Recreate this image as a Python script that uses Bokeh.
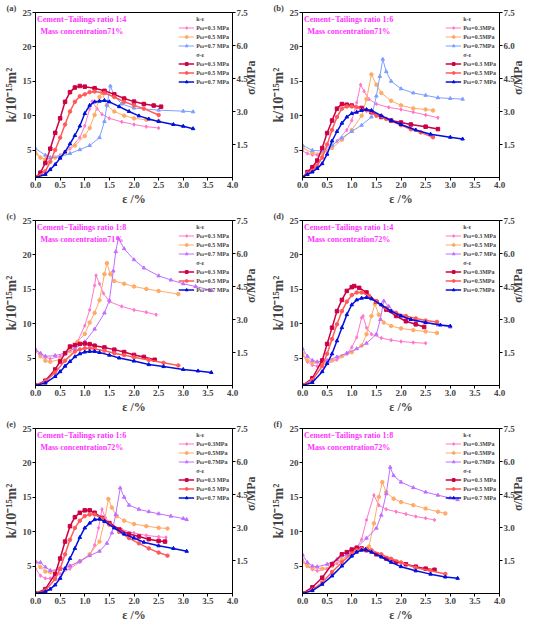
import math
from bokeh.plotting import figure
from bokeh.models import (Range1d, LinearAxis, FixedTicker, PrintfTickFormatter,
                          Legend, LegendItem, Label)
from bokeh.layouts import gridplot
from bokeh.embed import file_html
from bokeh.resources import INLINE

# ---------------- data ----------------
X_TICKS = [0.0, 0.5, 1.0, 1.5, 2.0, 2.5, 3.0, 3.5, 4.0]
K_TICKS = [5, 10, 15, 20, 25]
S_TICKS = [1.5, 3.0, 4.5, 6.0, 7.5]
PRESSURES = ["0.3", "0.5", "0.7"]

# panel (a) 1:4, 71%
a_k03_x = [0, 0.1, 0.2, 0.3, 0.5, 0.7, 0.9, 1.0, 1.1, 1.15, 1.25, 1.35, 1.5, 1.75, 2.0, 2.25, 2.5]
a_k03_y = [4.7, 3.9, 3.65, 3.8, 4.25, 5.2, 6.8, 8.5, 11.0, 12.05, 11.0, 10.2, 9.6, 9.1, 8.7, 8.4, 8.2]
a_k05_x = [0, 0.1, 0.2, 0.4, 0.6, 0.8, 1.0, 1.1, 1.2, 1.3, 1.35, 1.45, 1.6, 1.8, 2.0, 2.25, 2.5]
a_k05_y = [4.5, 3.9, 3.6, 3.9, 4.7, 5.65, 7.05, 8.2, 10.1, 12.7, 13.3, 11.5, 10.6, 10.0, 9.6, 9.4, 9.25]
a_k07_x = [0, 0.2, 0.3, 0.5, 0.7, 0.9, 1.1, 1.3, 1.4, 1.45, 1.52, 1.6, 1.75, 2.0, 2.5, 3.0, 3.2]
a_k07_y = [5.2, 4.25, 3.9, 4.0, 4.5, 5.05, 5.65, 6.8, 9.15, 11.5, 14.3, 12.9, 11.7, 11.1, 10.8, 10.65, 10.55]
a_s03_x = [0, 0.1, 0.2, 0.3, 0.4, 0.5, 0.6, 0.7, 0.8, 0.9, 1.0, 1.2, 1.4, 1.6, 1.8, 2.0, 2.2, 2.4, 2.55]
a_s03_y = [0, 0.22, 0.66, 1.31, 2.03, 2.69, 3.44, 3.88, 4.09, 4.16, 4.13, 4.06, 3.94, 3.78, 3.59, 3.45, 3.34, 3.27, 3.22]
a_s05_x = [0, 0.2, 0.3, 0.4, 0.5, 0.6, 0.7, 0.8, 0.9, 1.0, 1.1, 1.2, 1.4, 1.6, 1.8, 2.0, 2.2, 2.5]
a_s05_y = [0, 0.28, 0.72, 1.25, 1.81, 2.41, 3.0, 3.44, 3.69, 3.78, 3.88, 3.91, 3.84, 3.66, 3.44, 3.28, 3.13, 2.84]
a_s07_x = [0, 0.2, 0.3, 0.4, 0.5, 0.6, 0.7, 0.8, 0.9, 1.0, 1.1, 1.2, 1.3, 1.4, 1.5, 1.7, 1.9, 2.1, 2.3, 2.5, 2.8, 3.0, 3.2]
a_s07_y = [0, 0.14, 0.36, 0.59, 0.88, 1.16, 1.53, 1.91, 2.34, 2.91, 3.28, 3.44, 3.47, 3.5, 3.44, 3.22, 3.0, 2.8, 2.66, 2.55, 2.41, 2.33, 2.22]

# panel (b) 1:6, 71%
b_k03_x = [0, 0.1, 0.2, 0.3, 0.5, 0.7, 0.9, 1.0, 1.1, 1.18, 1.25, 1.35, 1.5, 1.75, 2.0, 2.25, 2.5, 2.75]
b_k03_y = [4.85, 4.5, 4.3, 4.3, 4.85, 6.3, 7.9, 9.3, 11.9, 14.5, 13.55, 12.4, 11.7, 11.2, 10.9, 10.5, 10.1, 9.7]
b_k05_x = [0, 0.2, 0.4, 0.6, 0.8, 1.0, 1.2, 1.3, 1.4, 1.5, 1.6, 1.8, 2.0, 2.25, 2.5, 2.65]
b_k05_y = [5.3, 4.6, 4.5, 5.3, 6.5, 7.9, 10.0, 12.4, 16.0, 14.5, 13.3, 12.15, 11.5, 11.05, 10.9, 10.75]
b_k07_x = [0, 0.2, 0.4, 0.6, 0.8, 1.0, 1.2, 1.4, 1.5, 1.57, 1.63, 1.7, 1.8, 2.0, 2.25, 2.5, 2.75, 3.0, 3.25]
b_k07_y = [5.7, 4.95, 4.85, 5.7, 6.75, 7.7, 8.6, 9.8, 12.85, 15.7, 18.2, 16.4, 15.0, 13.9, 13.3, 12.95, 12.6, 12.5, 12.4]
b_s03_x = [0, 0.1, 0.2, 0.3, 0.4, 0.5, 0.6, 0.7, 0.8, 0.9, 1.0, 1.2, 1.4, 1.6, 1.8, 2.0, 2.2, 2.5, 2.75]
b_s03_y = [0, 0.25, 0.47, 0.77, 1.34, 2.02, 2.59, 3.13, 3.34, 3.31, 3.27, 3.16, 2.97, 2.75, 2.59, 2.5, 2.41, 2.31, 2.2]
b_s05_x = [0, 0.1, 0.2, 0.3, 0.4, 0.5, 0.6, 0.7, 0.8, 0.9, 1.0, 1.1, 1.3, 1.5, 1.7, 2.0, 2.2, 2.4, 2.65]
b_s05_y = [0, 0.19, 0.31, 0.55, 0.91, 1.5, 2.16, 2.75, 3.13, 3.23, 3.23, 3.19, 3.05, 2.81, 2.66, 2.38, 2.19, 2.05, 1.83]
b_s07_x = [0, 0.1, 0.2, 0.3, 0.4, 0.5, 0.6, 0.7, 0.8, 0.9, 1.0, 1.1, 1.2, 1.3, 1.4, 1.6, 1.8, 2.0, 2.3, 2.6, 3.0, 3.25]
b_s07_y = [0, 0.14, 0.25, 0.41, 0.63, 1.06, 1.66, 2.09, 2.47, 2.75, 2.91, 2.97, 3.05, 3.09, 3.05, 2.81, 2.59, 2.41, 2.16, 1.97, 1.83, 1.75]

# panel (c) 1:8, 71%
c_k03_x = [0, 0.1, 0.2, 0.3, 0.5, 0.7, 0.85, 1.0, 1.1, 1.2, 1.23, 1.3, 1.38, 1.5, 1.75, 2.0, 2.25, 2.45]
c_k03_y = [6.3, 5.6, 5.1, 4.9, 5.2, 6.2, 7.35, 9.7, 12.0, 15.55, 17.0, 15.8, 14.4, 13.2, 12.5, 12.0, 11.65, 11.3]
c_k05_x = [0, 0.1, 0.2, 0.3, 0.5, 0.7, 0.85, 1.0, 1.1, 1.2, 1.3, 1.4, 1.45, 1.52, 1.6, 1.8, 2.0, 2.25, 2.5, 2.9]
c_k05_y = [6.0, 5.25, 4.6, 4.45, 4.8, 6.0, 7.35, 8.5, 10.15, 11.55, 13.4, 17.2, 18.8, 17.2, 16.2, 15.8, 15.4, 15.05, 14.75, 14.3]
c_k07_x = [0, 0.1, 0.2, 0.4, 0.6, 0.8, 1.0, 1.2, 1.4, 1.5, 1.58, 1.63, 1.68, 1.8, 2.0, 2.2, 2.5, 2.75, 3.0, 3.25, 3.57]
c_k07_y = [6.15, 5.7, 5.25, 5.35, 5.7, 6.4, 7.35, 9.2, 11.55, 13.4, 17.65, 20.45, 22.4, 20.9, 19.3, 18.1, 16.95, 16.35, 15.8, 15.4, 14.85]
c_s03_x = [0, 0.2, 0.4, 0.5, 0.6, 0.7, 0.8, 0.9, 1.0, 1.1, 1.2, 1.4, 1.6, 1.8, 2.0, 2.2, 2.42]
c_s03_y = [0, 0.22, 0.73, 1.09, 1.47, 1.77, 1.84, 1.89, 1.91, 1.88, 1.81, 1.73, 1.63, 1.52, 1.39, 1.30, 1.17]
c_s05_x = [0, 0.2, 0.4, 0.6, 0.8, 0.9, 1.0, 1.1, 1.2, 1.4, 1.6, 1.8, 2.0, 2.3, 2.6, 2.9]
c_s05_y = [0, 0.19, 0.59, 1.13, 1.55, 1.64, 1.69, 1.69, 1.66, 1.58, 1.47, 1.38, 1.28, 1.16, 1.03, 0.91]
c_s07_x = [0, 0.2, 0.4, 0.5, 0.6, 0.7, 0.8, 0.9, 1.0, 1.1, 1.2, 1.3, 1.5, 1.7, 2.0, 2.3, 2.6, 3.0, 3.3, 3.57]
c_s07_y = [0, 0.11, 0.41, 0.63, 0.88, 1.09, 1.31, 1.44, 1.52, 1.55, 1.55, 1.5, 1.38, 1.25, 1.11, 0.95, 0.86, 0.73, 0.66, 0.59]

# panel (d) 1:4, 72%
d_k03_x = [0, 0.1, 0.2, 0.3, 0.5, 0.7, 0.9, 1.0, 1.1, 1.2, 1.23, 1.3, 1.4, 1.6, 1.8, 2.0, 2.25, 2.5]
d_k03_y = [5.4, 4.45, 3.95, 3.8, 4.2, 4.75, 5.6, 6.55, 8.0, 10.85, 11.1, 9.4, 8.45, 7.9, 7.6, 7.4, 7.25, 7.15]
d_k05_x = [0, 0.1, 0.2, 0.4, 0.6, 0.8, 1.0, 1.2, 1.3, 1.4, 1.47, 1.55, 1.65, 1.8, 2.0, 2.25, 2.5, 2.73]
d_k05_y = [5.6, 4.65, 4.3, 4.2, 4.65, 5.25, 5.85, 6.8, 8.45, 11.1, 12.85, 11.3, 10.15, 9.65, 9.3, 9.05, 8.85, 8.65]
d_k07_x = [0, 0.1, 0.2, 0.3, 0.5, 0.7, 0.9, 1.1, 1.3, 1.5, 1.58, 1.65, 1.75, 1.9, 2.1, 2.3, 2.5, 2.75, 3.0]
d_k07_y = [6.35, 5.25, 4.65, 4.45, 4.65, 5.15, 5.7, 6.35, 7.15, 8.45, 10.6, 13.3, 12.5, 11.55, 10.95, 10.45, 10.15, 9.8, 9.5]
d_s03_x = [0, 0.2, 0.4, 0.5, 0.6, 0.7, 0.8, 0.9, 1.0, 1.05, 1.15, 1.3, 1.5, 1.7, 1.9, 2.1, 2.3, 2.47]
d_s03_y = [0, 0.33, 1.14, 1.89, 2.63, 3.38, 3.89, 4.3, 4.47, 4.52, 4.44, 4.23, 3.81, 3.45, 3.16, 2.92, 2.78, 2.66]
d_s05_x = [0, 0.2, 0.4, 0.5, 0.6, 0.7, 0.8, 0.9, 1.0, 1.1, 1.2, 1.35, 1.5, 1.7, 1.9, 2.1, 2.3, 2.5, 2.73]
d_s05_y = [0, 0.25, 0.88, 1.44, 2.11, 2.78, 3.38, 3.81, 4.11, 4.23, 4.23, 4.08, 3.81, 3.52, 3.3, 3.16, 3.05, 2.95, 2.89]
d_s07_x = [0, 0.2, 0.4, 0.5, 0.6, 0.7, 0.8, 0.9, 1.0, 1.1, 1.2, 1.3, 1.4, 1.6, 1.8, 2.0, 2.2, 2.5, 2.8, 3.0]
d_s07_y = [0, 0.14, 0.63, 1.0, 1.44, 2.03, 2.63, 3.22, 3.67, 3.89, 3.97, 4.0, 3.94, 3.67, 3.38, 3.16, 3.0, 2.86, 2.75, 2.7]

# panel (e) 1:6, 72%
e_k03_x = [0, 0.1, 0.2, 0.3, 0.5, 0.7, 0.9, 1.1, 1.2, 1.28, 1.35, 1.42, 1.55, 1.75, 2.0, 2.25, 2.5, 2.65]
e_k03_y = [4.6, 3.6, 3.2, 3.2, 3.85, 4.6, 5.6, 6.6, 8.05, 10.55, 13.25, 12.0, 11.0, 10.3, 9.8, 9.45, 9.25, 9.15]
e_k05_x = [0, 0.1, 0.2, 0.3, 0.5, 0.7, 0.9, 1.1, 1.3, 1.4, 1.48, 1.55, 1.65, 1.8, 2.0, 2.25, 2.5, 2.68]
e_k05_y = [5.6, 4.85, 4.2, 4.1, 4.6, 5.0, 5.7, 6.7, 8.55, 11.5, 14.75, 13.5, 12.25, 11.6, 11.1, 10.8, 10.55, 10.45]
e_k07_x = [0, 0.1, 0.2, 0.3, 0.5, 0.7, 0.9, 1.1, 1.3, 1.45, 1.55, 1.63, 1.72, 1.8, 1.9, 2.1, 2.3, 2.5, 2.75, 3.0, 3.07]
e_k07_y = [5.6, 5.5, 4.85, 4.35, 4.5, 5.0, 5.7, 6.5, 7.15, 8.3, 9.8, 12.5, 16.35, 15.0, 13.85, 13.25, 12.9, 12.6, 12.25, 11.9, 11.75]
e_s03_x = [0, 0.2, 0.4, 0.5, 0.6, 0.7, 0.8, 0.9, 1.0, 1.1, 1.2, 1.35, 1.5, 1.7, 1.9, 2.1, 2.3, 2.5, 2.63]
e_s03_y = [0, 0.2, 0.89, 1.59, 2.36, 3.06, 3.47, 3.67, 3.78, 3.78, 3.67, 3.44, 3.2, 2.91, 2.7, 2.59, 2.47, 2.39, 2.36]
e_s05_x = [0, 0.2, 0.4, 0.5, 0.6, 0.7, 0.8, 0.9, 1.0, 1.1, 1.2, 1.35, 1.5, 1.7, 1.9, 2.1, 2.3, 2.5, 2.68]
e_s05_y = [0, 0.13, 0.66, 1.13, 1.78, 2.44, 2.98, 3.31, 3.52, 3.59, 3.59, 3.41, 3.13, 2.8, 2.52, 2.28, 2.05, 1.86, 1.72]
e_s07_x = [0, 0.2, 0.3, 0.4, 0.5, 0.6, 0.7, 0.8, 0.9, 1.0, 1.1, 1.2, 1.3, 1.4, 1.6, 1.8, 2.0, 2.2, 2.5, 2.8, 3.07]
e_s07_y = [0, 0.08, 0.2, 0.39, 0.69, 1.13, 1.59, 2.05, 2.55, 2.98, 3.2, 3.36, 3.38, 3.28, 2.98, 2.7, 2.52, 2.33, 2.17, 2.05, 1.92]

# panel (f) 1:8, 72%
f_k03_x = [0, 0.1, 0.2, 0.3, 0.5, 0.7, 0.9, 1.1, 1.2, 1.3, 1.45, 1.55, 1.7, 1.9, 2.1, 2.3, 2.5, 2.68]
f_k03_y = [5.95, 5.0, 4.5, 4.3, 4.6, 5.4, 6.45, 7.65, 8.85, 11.7, 15.3, 13.85, 13.25, 12.9, 12.55, 12.2, 11.95, 11.7]
f_k05_x = [0, 0.1, 0.2, 0.4, 0.6, 0.8, 1.0, 1.2, 1.35, 1.45, 1.55, 1.62, 1.7, 1.85, 2.0, 2.25, 2.5, 2.75, 2.9]
f_k05_y = [5.55, 5.0, 4.75, 4.6, 5.0, 5.95, 6.9, 7.4, 7.85, 11.2, 15.05, 17.2, 15.75, 14.8, 14.3, 13.85, 13.35, 12.9, 12.65]
f_k07_x = [0, 0.1, 0.2, 0.3, 0.5, 0.7, 0.9, 1.1, 1.3, 1.5, 1.6, 1.7, 1.78, 1.85, 2.0, 2.25, 2.5, 2.75, 3.0, 3.15]
f_k07_y = [6.65, 5.5, 5.0, 4.9, 5.25, 5.95, 6.65, 7.65, 9.05, 10.5, 12.4, 15.5, 19.35, 18.15, 17.2, 16.4, 15.75, 15.3, 14.9, 14.65]
f_s03_x = [0, 0.2, 0.4, 0.6, 0.8, 0.9, 1.0, 1.1, 1.2, 1.3, 1.5, 1.7, 1.9, 2.1, 2.3, 2.5, 2.68]
f_s03_y = [0, 0.28, 0.72, 1.33, 1.78, 1.88, 2.0, 2.08, 2.05, 1.97, 1.78, 1.59, 1.44, 1.33, 1.22, 1.13, 1.08]
f_s05_x = [0, 0.2, 0.4, 0.6, 0.8, 1.0, 1.1, 1.2, 1.3, 1.4, 1.6, 1.8, 2.0, 2.3, 2.6, 2.9]
f_s05_y = [0, 0.17, 0.5, 0.98, 1.42, 1.81, 1.97, 2.03, 2.03, 1.97, 1.78, 1.58, 1.41, 1.17, 1.03, 0.89]
f_s07_x = [0, 0.2, 0.4, 0.6, 0.8, 1.0, 1.1, 1.2, 1.28, 1.4, 1.6, 1.8, 2.0, 2.3, 2.6, 2.9, 3.15]
f_s07_y = [0, 0.13, 0.42, 0.8, 1.25, 1.7, 1.88, 1.97, 2.0, 1.88, 1.66, 1.42, 1.22, 1.03, 0.88, 0.75, 0.69]

# ---------------- styling ----------------
SERIF = "Liberation Serif"
MAGENTA = "#FF33FF"
K_COLORS_AB = ["#FF77CC", "#FFAA66", "#7F9FFF"]
K_COLORS_CF = ["#FF77CC", "#FFAA66", "#C070FF"]
S_COLORS = ["#CC0044", "#FF5a5a", "#0010DD"]
K_MARKERS = ["diamond", "circle", "triangle"]
S_MARKERS = ["square", "circle", "triangle"]

W, H = 267, 208


def style_axis(ax, label_size):
    ax.axis_line_color = "black"
    ax.axis_line_width = 1
    ax.major_tick_line_color = "black"
    ax.major_tick_out = 3
    ax.major_tick_in = 0
    ax.minor_tick_line_color = None
    ax.major_label_text_font = SERIF
    ax.major_label_text_font_style = "bold"
    ax.major_label_text_font_size = "9px"
    ax.major_label_standoff = 1
    ax.axis_label_text_font = SERIF
    ax.axis_label_text_font_style = "bold"
    ax.axis_label_text_font_size = label_size
    ax.axis_label_standoff = 1


def make_panel(tag, ratio, conc, kdata, sdata, kcolors, klab_space, slab_space):
    p = figure(width=W, height=H, output_backend="svg", toolbar_location=None,
               x_range=Range1d(0, 4.0), y_range=Range1d(1, 25),
               min_border_left=26, min_border_right=24,
               min_border_top=0, min_border_bottom=30)
    p.extra_y_ranges = {"s": Range1d(0, 7.5)}
    p.grid.visible = False
    p.outline_line_color = "black"
    p.outline_line_width = 1

    # panel tag "(a)" as a left-aligned title pulled to the left edge
    p.title.text = tag
    p.title.align = "left"
    p.title.offset = -29
    p.title.text_font = SERIF
    p.title.text_font_size = "8.5px"
    p.title.text_font_style = "bold"
    try:
        p.title.standoff = 0
    except Exception:
        pass

    p.xaxis.ticker = FixedTicker(ticks=X_TICKS)
    p.xaxis.formatter = PrintfTickFormatter(format="%.1f")
    p.xaxis.axis_label = "ε /%"
    p.yaxis.ticker = FixedTicker(ticks=K_TICKS)
    p.yaxis.axis_label = "k/10⁻¹⁵m²"
    style_axis(p.xaxis[0], "12px")
    style_axis(p.yaxis[0], "14px")

    rax = LinearAxis(y_range_name="s", axis_label="σ/MPa",
                     ticker=FixedTicker(ticks=S_TICKS),
                     formatter=PrintfTickFormatter(format="%.1f"))
    style_axis(rax, "12px")
    rax.axis_label_standoff = 0
    try:
        rax.axis_label_orientation = math.pi / 2
    except Exception:
        pass
    p.add_layout(rax, "right")

    hdr_k = p.line([], [], line_alpha=0)
    hdr_s = p.line([], [], line_alpha=0)
    items = [LegendItem(label="k-ε", renderers=[hdr_k])]
    for i, (xs, ys) in enumerate(kdata):
        c = kcolors[i]
        r1 = p.line(xs, ys, line_color=c, line_width=1)
        r2 = p.scatter(xs, ys, marker=K_MARKERS[i], size=3.5, color=c)
        sep = " " if klab_space else ""
        items.append(LegendItem(label="Pω=" + PRESSURES[i] + sep + "MPa", renderers=[r1, r2]))
    items.append(LegendItem(label="σ-ε", renderers=[hdr_s]))
    for i, (xs, ys) in enumerate(sdata):
        c = S_COLORS[i]
        r1 = p.line(xs, ys, line_color=c, line_width=1.5, y_range_name="s")
        r2 = p.scatter(xs, ys, marker=S_MARKERS[i], size=3.5, color=c, y_range_name="s")
        sep = " " if slab_space else ""
        items.append(LegendItem(label="Pω=" + PRESSURES[i] + sep + "MPa", renderers=[r1, r2]))

    lg = Legend(items=items, location="top_right",
                border_line_color=None, background_fill_alpha=0,
                label_text_font=SERIF, label_text_font_size="6px",
                label_text_font_style="bold", glyph_width=16, glyph_height=7,
                label_height=7, label_width=32, label_standoff=2,
                spacing=2, padding=1, margin=3)
    p.add_layout(lg)

    p.add_layout(Label(x=0.03, y=24.0, text="Cement\u2212Tailings ratio " + ratio,
                       text_align="left", text_baseline="middle", text_color=MAGENTA,
                       text_font=SERIF, text_font_size="8px", text_font_style="bold"))
    p.add_layout(Label(x=0.1, y=22.3, text="Mass concentration" + conc,
                       text_align="left", text_baseline="middle", text_color=MAGENTA,
                       text_font=SERIF, text_font_size="8px", text_font_style="bold"))
    return p


pa = make_panel("(a)", "1:4", "71%",
                [(a_k03_x, a_k03_y), (a_k05_x, a_k05_y), (a_k07_x, a_k07_y)],
                [(a_s03_x, a_s03_y), (a_s05_x, a_s05_y), (a_s07_x, a_s07_y)],
                K_COLORS_AB, True, True)
pb = make_panel("(b)", "1:6", "71%",
                [(b_k03_x, b_k03_y), (b_k05_x, b_k05_y), (b_k07_x, b_k07_y)],
                [(b_s03_x, b_s03_y), (b_s05_x, b_s05_y), (b_s07_x, b_s07_y)],
                K_COLORS_AB, False, True)
pc = make_panel("(c)", "1:8", "71%",
                [(c_k03_x, c_k03_y), (c_k05_x, c_k05_y), (c_k07_x, c_k07_y)],
                [(c_s03_x, c_s03_y), (c_s05_x, c_s05_y), (c_s07_x, c_s07_y)],
                K_COLORS_CF, True, True)
pd_ = make_panel("(d)", "1:4", "72%",
                 [(d_k03_x, d_k03_y), (d_k05_x, d_k05_y), (d_k07_x, d_k07_y)],
                 [(d_s03_x, d_s03_y), (d_s05_x, d_s05_y), (d_s07_x, d_s07_y)],
                 K_COLORS_CF, True, False)
pe = make_panel("(e)", "1:6", "72%",
                [(e_k03_x, e_k03_y), (e_k05_x, e_k05_y), (e_k07_x, e_k07_y)],
                [(e_s03_x, e_s03_y), (e_s05_x, e_s05_y), (e_s07_x, e_s07_y)],
                K_COLORS_CF, False, True)
pf = make_panel("(f)", "1:8", "72%",
                [(f_k03_x, f_k03_y), (f_k05_x, f_k05_y), (f_k07_x, f_k07_y)],
                [(f_s03_x, f_s03_y), (f_s05_x, f_s05_y), (f_s07_x, f_s07_y)],
                K_COLORS_CF, False, True)

grid = gridplot([[pa, pb], [pc, pd_], [pe, pf]], toolbar_location=None)

with open("out.html", "w") as fh:
    fh.write(file_html(grid, INLINE))
